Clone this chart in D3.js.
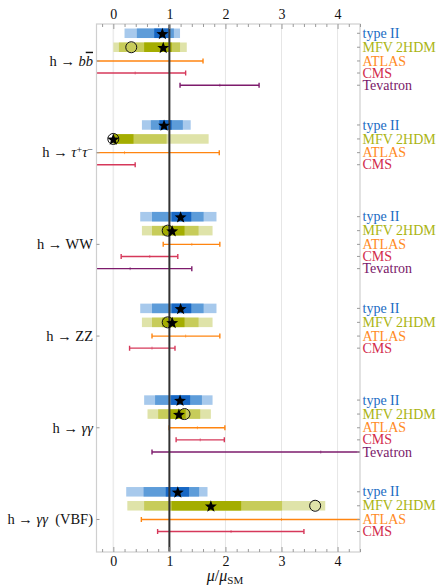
<!DOCTYPE html>
<html>
<head>
<meta charset="utf-8">
<script src="https://cdn.jsdelivr.net/npm/d3@7"></script>
<style>
  body { margin: 0; background: #fff; }
  text { font-family: "Liberation Serif", "DejaVu Serif", serif; }
</style>
</head>
<body>
<div id="chart"></div>
<script>
// Decay channels, top to bottom
var channels = ["bb", "tautau", "WW", "ZZ", "gammagamma", "gammagammaVBF"];
var channelLabels = [
  [["h → ", ""], ["b", "i"], ["b", "io"]],
  [["h → ", ""], ["τ", "i"], ["+", "sup"], ["τ", "i"], ["−", "sup"]],
  [["h → WW", ""]],
  [["h → ZZ", ""]],
  [["h → ", ""], ["γγ", "i"]],
  [["h → ", ""], ["γγ", "i"], ["  (VBF)", ""]]
];

// type II fit: best point and three nested ranges
var typeIIBest = [0.875, 0.905, 1.20, 1.20, 1.19, 1.15];
var typeIIInner = [[0.73, 1.01], [0.82, 1.04], [1.04, 1.39], [1.04, 1.39], [1.03, 1.37], [0.935, 1.35]];
var typeIIMid = [[0.42, 1.08], [0.67, 1.24], [0.69, 1.61], [0.69, 1.61], [0.745, 1.58], [0.54, 1.53]];
var typeIIOuter = [[0.20, 1.19], [0.51, 1.38], [0.48, 1.84], [0.48, 1.84], [0.55, 1.77], [0.23, 1.68]];

// MFV 2HDM fit: best point, second point (circle) and three nested ranges
var mfvBest = [0.89, 0.0, 1.05, 1.05, 1.17, 1.74];
var mfvAlt = [0.32, 0.0, 0.97, 0.97, 1.27, 3.60];
var mfvInner = [[0.55, 1.04], [0.0, 0.36], [0.875, 1.27], [0.875, 1.27], [0.995, 1.29], [1.04, 2.28]];
var mfvMid = [[0.10, 1.19], [0.0, 0.95], [0.69, 1.52], [0.69, 1.52], [0.80, 1.55], [0.55, 3.01]];
var mfvOuter = [[0.0, 1.31], [0.0, 1.70], [0.51, 1.77], [0.51, 1.77], [0.61, 1.74], [0.25, 3.78]];

// measurements [low, central, high]
var atlas = [[-2.6, -0.5, 1.6], [-1.5, 0.2, 1.89], [0.89, 1.40, 1.90], [0.69, 1.29, 1.90], [0.995, 1.50, 1.99], [0.5, 3.0, 5.5]];
var cms = [[-0.51, 0.39, 1.29], [-1.2, -0.4, 0.39], [0.14, 0.65, 1.15], [0.29, 0.69, 1.10], [1.12, 1.55, 1.98], [0.79, 2.10, 3.40]];
var tevatron = [[1.19, 1.9, 2.60], null, [-0.8, 0.30, 1.40], null, [0.69, 3.70, 6.7], null];

var majorTicks = [0, 1, 2, 3, 4];
var rowNames = ["type II", "MFV 2HDM", "ATLAS", "CMS", "Tevatron"];

var divWidth = 438, divHeight = 587,
    plot = {left: 96.5, right: 360, top: 24, bottom: 552};

var blues = ["#a7c9ec", "#5d9cd9", "#1767c4"],
    olives = ["#dfe3a9", "#c7cc5a", "#a4ad00"],
    rowColors = ["#1a6cc3", "#abb412", "#ff8a1f", "#d22c4c", "#7a186a"],
    barColors = {2: "#ff8510", 3: "#d6385a", 4: "#7d1b6c"};

var svg = d3.select("#chart").append("svg")
  .attr("width", divWidth)
  .attr("height", divHeight);

var x = d3.scaleLinear().domain([-0.3, 4.4]).range([plot.left, plot.right]);
var y = d3.scaleLinear().domain([-0.73, 40.84]).range([plot.top, plot.bottom]);

// vertical slot of row r in group g
var groupStep = 7.22, rowOffset = [0, 1.1, 2.18, 3.13, 4.09];
function rowY(g, r) { return y(g * groupStep + rowOffset[r]); }

svg.append("clipPath").attr("id", "clip")
  .append("rect")
  .attr("x", plot.left).attr("y", plot.top)
  .attr("width", plot.right - plot.left).attr("height", plot.bottom - plot.top);

// Grid lines at integer values.
svg.append("g").selectAll("line")
  .data(majorTicks.filter(d => d !== 1))
  .join("line")
    .attr("x1", d => x(d)).attr("x2", d => x(d))
    .attr("y1", plot.top).attr("y2", plot.bottom)
    .attr("stroke", d => d === 0 ? "#ececec" : "#e6e6e6")
    .attr("stroke-width", d => d === 0 ? 1.6 : 1);

var body = svg.append("g").attr("clip-path", "url(#clip)");
var barH = 9.5;

// Fit bands, three shades each.
function drawBands(levels, colors, r) {
  levels.forEach(function (ranges, i) {
    body.append("g").selectAll("rect")
      .data(ranges)
      .join("rect")
        .attr("x", d => x(d[0]))
        .attr("width", d => x(d[1]) - x(d[0]))
        .attr("y", (d, g) => rowY(g, r) - barH / 2)
        .attr("height", barH)
        .attr("fill", colors[i]);
  });
}
drawBands([typeIIOuter, typeIIMid, typeIIInner], blues, 0);
drawBands([mfvOuter, mfvMid, mfvInner], olives, 1);

// Measurement error bars.
var bars = [];
atlas.forEach((d, g) => bars.push({g: g, r: 2, v: d}));
cms.forEach((d, g) => bars.push({g: g, r: 3, v: d}));
tevatron.forEach((d, g) => { if (d) bars.push({g: g, r: 4, v: d}); });

var eb = body.append("g").selectAll("g")
  .data(bars)
  .join("g")
    .attr("stroke", d => barColors[d.r])
    .attr("stroke-width", 1.4);
eb.append("line")
  .attr("x1", d => x(d.v[0])).attr("x2", d => x(d.v[2]))
  .attr("y1", d => rowY(d.g, d.r)).attr("y2", d => rowY(d.g, d.r));
[0, 2].forEach(function (k) {
  eb.append("line")
    .attr("x1", d => x(d.v[k])).attr("x2", d => x(d.v[k]))
    .attr("y1", d => rowY(d.g, d.r) - 2.5).attr("y2", d => rowY(d.g, d.r) + 2.5);
});
eb.append("line")
  .attr("stroke-width", 1)
  .attr("stroke-opacity", 0.6)
  .attr("x1", d => x(d.v[1])).attr("x2", d => x(d.v[1]))
  .attr("y1", d => rowY(d.g, d.r) - 1.5).attr("y2", d => rowY(d.g, d.r) + 1.5);

// SM line.
svg.append("line")
  .attr("x1", x(1)).attr("x2", x(1))
  .attr("y1", plot.top).attr("y2", plot.bottom)
  .attr("stroke", "#333").attr("stroke-width", 2);

// Markers.
function starPath(r) {
  var pts = d3.range(10).map(function (i) {
    var a = -Math.PI / 2 + i * Math.PI / 5, rr = i % 2 ? r * 0.42 : r;
    return [rr * Math.cos(a), rr * Math.sin(a)];
  });
  return "M" + pts.join("L") + "Z";
}
var marks = svg.append("g");
marks.selectAll("circle")
  .data(mfvAlt)
  .join("circle")
    .attr("cx", d => x(d)).attr("cy", (d, g) => rowY(g, 1))
    .attr("r", 5.5)
    .attr("fill", "none").attr("stroke", "#111").attr("stroke-width", 1);
marks.selectAll("path.s2")
  .data(typeIIBest)
  .join("path")
    .attr("class", "s2")
    .attr("d", starPath(6.3))
    .attr("transform", (d, g) => `translate(${x(d)},${rowY(g, 0) + 0.8})`);
marks.selectAll("path.mfv")
  .data(mfvBest)
  .join("path")
    .attr("class", "mfv")
    .attr("d", starPath(6.3))
    .attr("transform", (d, g) => `translate(${x(d)},${rowY(g, 1) + 0.8})`);

// Frame.
svg.append("rect")
  .attr("x", plot.left).attr("y", plot.top)
  .attr("width", plot.right - plot.left).attr("height", plot.bottom - plot.top)
  .attr("fill", "none").attr("stroke", "#cfcfcf").attr("stroke-width", 1.2);

// Top and bottom axes (ticks pointing inward).
var minorTicks = d3.range(-0.2, 4.41, 0.2).filter(v => Math.abs(v - Math.round(v)) > 0.01);
function styleAxis(g) {
  g.select(".domain").remove();
  g.selectAll("line").attr("stroke", "#9a9a9a");
  g.selectAll("text").attr("font-size", 14).attr("fill", "#111")
    .style("font-family", '"Liberation Serif", serif');
}
svg.append("g").attr("transform", `translate(0,${plot.top})`)
  .call(d3.axisTop(x).tickValues(majorTicks).tickSizeInner(-5).tickSizeOuter(0).tickPadding(5).tickFormat(d3.format("d")))
  .call(styleAxis);
svg.append("g").attr("transform", `translate(0,${plot.top})`)
  .call(d3.axisTop(x).tickValues(minorTicks).tickSizeInner(-3).tickSizeOuter(0).tickFormat(""))
  .call(styleAxis);
svg.append("g").attr("transform", `translate(0,${plot.bottom})`)
  .call(d3.axisBottom(x).tickValues(majorTicks).tickSizeInner(-5).tickSizeOuter(0).tickPadding(4).tickFormat(d3.format("d")))
  .call(styleAxis);
svg.append("g").attr("transform", `translate(0,${plot.bottom})`)
  .call(d3.axisBottom(x).tickValues(minorTicks).tickSizeInner(-3).tickSizeOuter(0).tickFormat(""))
  .call(styleAxis);

// Right labels with inward ticks.
var rows = [];
channels.forEach(function (c, g) {
  for (var r = 0; r < 5; r++) {
    if (r === 4 && !tevatron[g]) continue;
    rows.push({g: g, r: r});
  }
});
var right = svg.append("g");
right.selectAll("line")
  .data(rows)
  .join("line")
    .attr("x1", plot.right - 3).attr("x2", plot.right)
    .attr("y1", d => rowY(d.g, d.r)).attr("y2", d => rowY(d.g, d.r))
    .attr("stroke", "#9a9a9a");
right.selectAll("text")
  .data(rows)
  .join("text")
    .attr("x", plot.right + 2.5)
    .attr("y", d => rowY(d.g, d.r))
    .attr("dy", "0.33em")
    .attr("font-size", 14)
    .attr("fill", d => rowColors[d.r])
    .text(d => rowNames[d.r]);

// Left channel labels, aligned with the ATLAS row.
var left = svg.append("g");
left.selectAll("line")
  .data(channels)
  .join("line")
    .attr("x1", plot.left).attr("x2", plot.left + 3)
    .attr("y1", (d, g) => rowY(g, 2)).attr("y2", (d, g) => rowY(g, 2))
    .attr("stroke", "#9a9a9a");
left.selectAll("text")
  .data(channelLabels)
  .join("text")
    .attr("x", plot.left - 3.5)
    .attr("y", (d, g) => rowY(g, 2))
    .attr("dy", "0.33em")
    .attr("text-anchor", "end")
    .attr("font-size", 14.5)
    .attr("fill", "#111")
    .style("white-space", "pre")
    .each(function (parts) {
      var t = d3.select(this);
      parts.forEach(function (p) {
        var s = t.append("tspan").text(p[0]);
        if (p[1].indexOf("i") === 0) s.attr("font-style", "italic");
        if (p[1] === "io") s.style("text-decoration", "overline");
        if (p[1] === "sup") s.attr("font-size", 10).attr("baseline-shift", "38%");
      });
    });

// x-axis label.
var xl = svg.append("text")
  .attr("x", 225).attr("y", 581)
  .attr("text-anchor", "middle")
  .attr("font-size", 16)
  .attr("fill", "#111");
xl.append("tspan").attr("font-style", "italic").text("μ");
xl.append("tspan").text("/");
xl.append("tspan").attr("font-style", "italic").text("μ");
xl.append("tspan").attr("font-size", 11).attr("baseline-shift", "-25%").text("SM");
</script>
</body>
</html>
